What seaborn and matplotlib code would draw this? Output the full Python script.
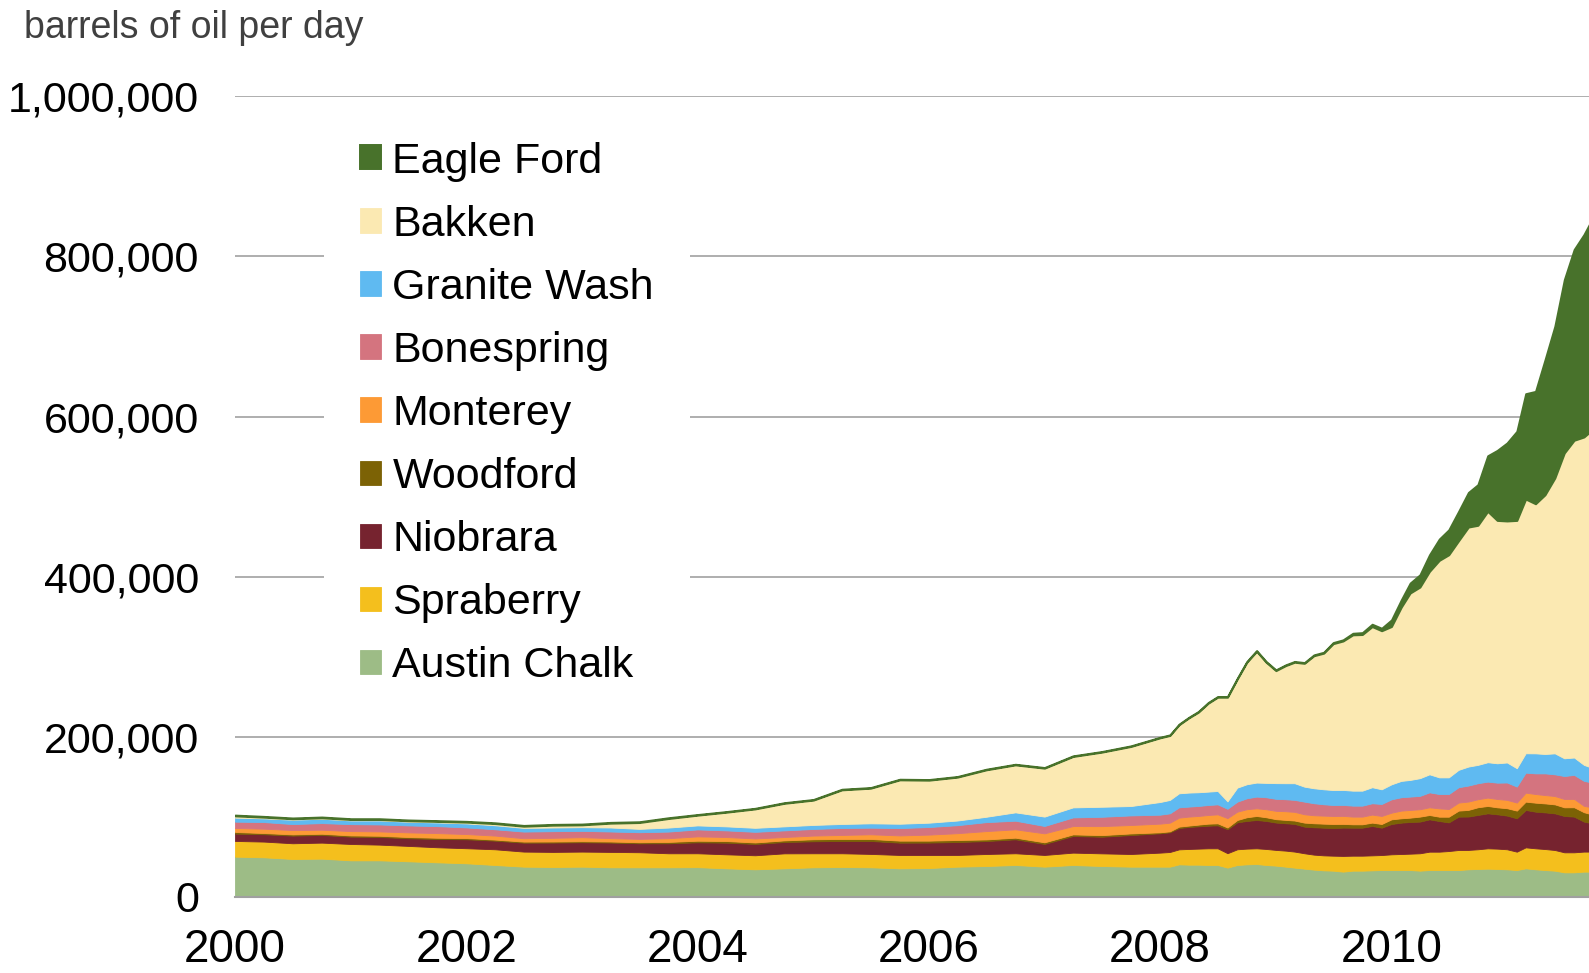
import pandas as pd
import matplotlib
matplotlib.use("Agg")
import matplotlib.pyplot as plt
import matplotlib.dates as mdates
from matplotlib.ticker import FuncFormatter, MultipleLocator
import seaborn as sns

# quarterly readings 2000-2007, monthly readings 2008 onward
dates = pd.date_range("2000-01-01", "2007-10-01", freq="QS").append(
    pd.date_range("2008-01-01", "2011-10-01", freq="MS"))

# values in thousand barrels per day
austin_chalk = [
    50.4, 49.6, 47.5, 47.9, 45.8, 45.8, 44.6, 43.3, 42.1, 40.0, 37.9, 37.5,
    37.9, 37.1, 37.1, 37.1, 37.3, 35.8, 34.6, 35.8, 37.1, 37.5, 37.1, 35.8,
    36.2, 37.9, 38.7, 40.0, 37.9, 40.0, 38.7, 37.9,
    37.9, 37.9, 40.8, 40.4, 40.4, 40.0, 40.0, 36.7, 40.0, 40.8, 41.2, 40.0,
    39.2, 37.9, 36.7, 35.4, 34.2, 33.3, 32.9, 31.7, 32.9, 32.9, 33.3, 33.7,
    33.7, 33.7, 33.7, 32.9, 33.7, 33.7, 33.7, 33.7, 34.6, 35.0, 35.4, 35.0,
    34.6, 33.7, 35.8, 34.6, 33.7, 32.9, 30.8, 30.8, 31.7, 31.7]
spraberry = [
    19.6, 19.6, 19.6, 20.0, 20.4, 19.6, 19.2, 18.8, 18.8, 19.6, 18.8, 18.8,
    18.8, 19.2, 18.8, 17.5, 17.3, 17.5, 17.5, 18.7, 17.5, 17.1, 16.7, 16.7,
    16.2, 14.6, 15.0, 14.6, 14.6, 15.4, 15.8, 15.8,
    17.5, 18.3, 18.7, 19.6, 20.0, 20.8, 20.8, 18.0, 19.6, 19.6, 19.6, 20.0,
    19.6, 20.0, 20.0, 19.2, 18.7, 18.7, 18.7, 19.6, 18.7, 18.7, 18.7, 18.7,
    19.6, 20.0, 20.4, 21.7, 22.9, 22.9, 23.7, 25.0, 24.2, 24.6, 25.4, 25.4,
    25.0, 22.9, 26.2, 26.2, 26.2, 25.8, 25.0, 25.0, 25.0, 25.0]
niobrara = [
    9.2, 9.2, 9.6, 9.6, 9.2, 9.6, 9.6, 10.4, 11.2, 10.8, 11.2, 11.7,
    11.7, 11.7, 11.2, 12.5, 13.7, 14.6, 14.2, 14.2, 15.0, 15.4, 16.2, 15.4,
    15.6, 16.2, 16.2, 17.5, 13.8, 20.8, 20.8, 23.7,
    24.2, 24.6, 26.7, 27.5, 27.9, 28.3, 28.7, 30.0, 33.7, 34.6, 35.4, 35.0,
    34.2, 34.2, 34.6, 33.3, 34.2, 34.6, 34.6, 35.4, 35.0, 35.0, 36.7, 34.2,
    37.9, 39.2, 39.6, 39.6, 40.4, 38.3, 35.8, 41.7, 41.7, 42.9, 43.7, 42.9,
    42.1, 41.7, 46.7, 45.8, 45.8, 45.8, 45.4, 44.6, 37.5, 35.0]
woodford = [
    2.0, 1.5, 1.5, 1.5, 1.5, 1.5, 1.5, 1.5, 1.5, 1.3, 1.3, 1.3,
    1.3, 1.3, 1.3, 1.7, 2.0, 2.0, 1.8, 2.0, 2.5, 2.5, 2.5, 2.5,
    2.4, 2.5, 2.0, 2.0, 2.0, 2.0, 2.0, 2.0,
    1.2, 1.2, 1.7, 1.7, 2.1, 2.5, 2.5, 2.1, 2.9, 4.6, 5.0, 4.6,
    4.2, 4.2, 4.2, 5.0, 5.0, 5.0, 5.0, 4.6, 4.2, 4.2, 4.2, 4.6,
    5.8, 5.4, 5.4, 6.2, 5.4, 5.4, 7.1, 7.5, 8.3, 9.6, 9.2, 8.7,
    9.2, 9.6, 10.4, 11.2, 11.2, 11.2, 10.8, 11.7, 11.7, 11.0]
monterey = [
    5.0, 5.4, 5.4, 5.0, 5.4, 5.4, 5.8, 5.8, 5.0, 5.0, 4.2, 4.6,
    5.0, 4.2, 4.2, 4.6, 5.4, 5.0, 5.0, 4.2, 4.6, 5.0, 5.8, 6.5,
    7.5, 8.5, 10.4, 10.4, 11.2, 10.4, 11.2, 10.5,
    10.8, 10.8, 11.2, 11.2, 10.8, 10.8, 11.2, 11.7, 10.4, 10.0, 9.6, 10.0,
    10.4, 10.8, 10.8, 10.4, 10.0, 10.0, 10.0, 10.0, 9.6, 9.6, 10.0, 10.0,
    8.3, 9.6, 9.6, 9.2, 9.6, 10.4, 9.6, 10.0, 10.4, 10.0, 10.4, 10.4,
    10.4, 10.0, 11.2, 10.8, 10.4, 10.4, 10.4, 10.4, 7.9, 9.0]
bonespring = [
    7.9, 8.3, 7.5, 8.3, 8.7, 8.7, 8.7, 8.7, 8.3, 7.9, 8.3, 8.3,
    7.9, 8.3, 8.3, 8.3, 8.7, 8.3, 8.3, 8.3, 8.3, 8.7, 8.3, 9.2,
    9.5, 10.0, 11.2, 10.8, 9.2, 10.8, 11.7, 12.0,
    11.2, 11.7, 12.9, 12.5, 12.5, 12.5, 12.5, 11.7, 12.5, 13.7, 14.6, 15.0,
    15.0, 15.0, 15.0, 15.8, 15.0, 14.2, 13.7, 13.7, 13.7, 13.7, 14.2, 15.0,
    16.7, 16.7, 16.7, 16.7, 18.7, 17.9, 18.7, 19.2, 20.0, 20.0, 20.0, 20.4,
    21.7, 20.0, 25.0, 25.8, 27.1, 27.1, 28.7, 30.0, 31.2, 31.0]
granite_wash = [
    5.0, 4.6, 5.4, 5.4, 4.6, 5.0, 4.6, 4.6, 5.0, 5.0, 4.6, 4.6,
    4.6, 5.0, 4.2, 5.0, 5.0, 5.0, 5.0, 5.0, 5.0, 5.0, 5.4, 5.4,
    5.4, 5.8, 6.7, 10.4, 11.7, 12.5, 12.5, 11.7,
    15.8, 16.7, 17.5, 17.5, 17.1, 16.7, 16.7, 9.2, 17.5, 17.5, 17.5, 17.9,
    19.6, 20.0, 20.8, 18.7, 18.7, 18.7, 18.7, 18.7, 18.7, 18.7, 20.0, 18.3,
    18.7, 20.4, 20.8, 22.1, 22.5, 20.8, 20.8, 21.7, 23.7, 22.9, 24.2, 24.2,
    25.0, 22.9, 24.2, 25.0, 24.2, 26.2, 22.1, 21.7, 20.0, 18.0]
bakken = [
    2.2, 1.5, 1.2, 1.2, 1.2, 1.2, 1.2, 1.3, 1.6, 2.1, 2.1, 2.9,
    2.9, 5.4, 7.9, 11.3, 12.8, 17.7, 23.6, 28.8, 31.0, 42.6, 43.9, 54.8,
    53.1, 54.2, 58.6, 59.3, 60.5, 63.6, 68.2, 74.4,
    80.2, 80.5, 85.6, 93.3, 100.0, 110.4, 117.1, 130.1, 135.7, 152.3, 163.9, 150.7,
    140.5, 146.9, 151.1, 154.0, 165.5, 170.0, 182.8, 186.0, 194.6, 195.0, 200.6, 198.0,
    197.1, 217.0, 233.4, 238.7, 253.4, 271.0, 278.0, 286.1, 299.1, 299.2, 313.3, 303.3,
    301.6, 309.5, 317.5, 311.7, 323.7, 343.8, 381.3, 396.2, 409.5, 424.0]
eagle_ford = [
    1.0, 1.0, 1.0, 1.0, 1.0, 1.0, 1.0, 1.0, 1.0, 1.0, 1.0, 1.0,
    1.0, 1.0, 1.0, 1.0, 0.8, 0.8, 0.8, 0.8, 0.8, 0.8, 0.8, 0.8,
    0.8, 0.8, 0.8, 0.8, 0.8, 0.8, 0.8, 0.8,
    0.7, 0.8, 0.8, 0.8, 0.9, 0.9, 0.9, 0.9, 1.0, 1.0, 1.0, 1.0,
    1.0, 1.0, 1.0, 1.0, 1.1, 1.2, 1.4, 1.5, 2.0, 2.4, 3.0, 3.2,
    8.3, 9.2, 12.5, 15.4, 20.8, 26.7, 31.2, 36.7, 43.3, 50.8, 69.5, 87.5,
    97.5, 111.3, 131.6, 140.4, 168.7, 189.6, 216.6, 238.3, 252.9, 265.0]

plays = ["Austin Chalk", "Spraberry", "Niobrara", "Woodford", "Monterey",
         "Bonespring", "Granite Wash", "Bakken", "Eagle Ford"]
colors = ["#9dbc86", "#f4bf1d", "#76232f", "#7c6205", "#fd9a35",
          "#d4747f", "#5fbaf1", "#fbe9b2", "#48722b"]

df = pd.DataFrame({
    "Austin Chalk": austin_chalk, "Spraberry": spraberry, "Niobrara": niobrara,
    "Woodford": woodford, "Monterey": monterey, "Bonespring": bonespring,
    "Granite Wash": granite_wash, "Bakken": bakken, "Eagle Ford": eagle_ford,
}, index=dates) * 1000

sns.set_style("white")
plt.rcParams["font.family"] = ["Liberation Sans", "DejaVu Sans"]

fig = plt.figure(figsize=(15.89, 9.73), dpi=100)
ax = fig.add_axes([235 / 1589, 76 / 973, 1 - 235 / 1589, 800.7 / 973])

polys = ax.stackplot(df.index, [df[p].values for p in plays], colors=colors,
                     labels=plays, linewidth=0.6)
for poly, c in zip(polys, colors):
    poly.set_edgecolor(c)
polys[-1].set_linewidth(1.4)

ax.set_xlim(pd.Timestamp("2000-01-01"), pd.Timestamp("2011-09-17"))
ax.set_ylim(0, 1_000_000)
ax.yaxis.set_major_locator(MultipleLocator(200_000))
ax.yaxis.set_major_formatter(FuncFormatter(lambda v, p: f"{v:,.0f}"))
ax.xaxis.set_major_locator(mdates.YearLocator(2))
ax.xaxis.set_minor_locator(mdates.YearLocator(1))
ax.xaxis.set_major_formatter(mdates.DateFormatter("%Y"))

ax.set_axisbelow(True)
ax.yaxis.grid(True, color="#a8a8a8", linewidth=1.3)
ax.xaxis.grid(False)
for s in ["left", "top", "right"]:
    ax.spines[s].set_visible(False)
ax.spines["bottom"].set_color("#a0a0a0")
ax.spines["bottom"].set_linewidth(1.5)

ax.tick_params(axis="y", length=0, pad=26, labelsize=31, labelcolor="black")
ax.tick_params(axis="x", which="major", direction="out", length=14, width=1.5,
               color="#a0a0a0", pad=8.5, labelsize=33, labelcolor="black")
ax.tick_params(axis="x", which="minor", direction="out", length=10, width=1.5,
               color="#a0a0a0")

handles, labels = ax.get_legend_handles_labels()
leg = ax.legend(handles[::-1], labels[::-1], loc="upper left",
                bbox_to_anchor=(323.5 / 1589, 1 - 105 / 973),
                bbox_transform=fig.transFigure, fontsize=31, labelcolor="black",
                handlelength=0.49, handleheight=0.49, handletextpad=0.26,
                labelspacing=0.536, borderpad=0.85, borderaxespad=0,
                frameon=True, fancybox=False, framealpha=1)
leg.get_frame().set_edgecolor("none")
leg.get_frame().set_facecolor("white")

fig.text(24 / 1589, 1 - 38.5 / 973, "barrels of oil per day", fontsize=27,
         color="#404040", ha="left", va="baseline")

fig.savefig("out.png", dpi=100)
